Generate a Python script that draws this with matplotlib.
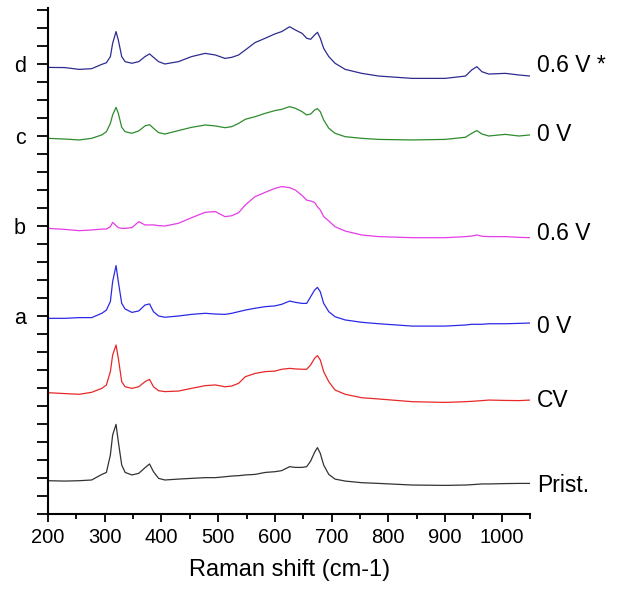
import numpy as np
import matplotlib.pyplot as plt
from matplotlib.ticker import MultipleLocator

plt.rcParams['font.family'] = ['Liberation Sans', 'DejaVu Sans']

# Raman shift (cm-1), common grid
shift = [200, 230, 255, 277, 295, 303, 310, 314, 320, 324, 330, 336, 348, 360,
         371, 379, 386, 395, 406, 430, 453, 477, 495, 512, 524, 536, 548, 565,
         583, 600, 612, 626, 636, 648, 656, 663, 670, 675, 680, 686, 695, 706,
         724, 753, 783, 842, 900, 936, 947, 956, 965, 977, 1006, 1030, 1050]

# stacked intensities (arbitrary units, offsets included)
prist = [1.85, 1.83, 1.85, 1.89, 2.20, 2.31, 3.28, 4.39, 4.98, 4.02, 2.72, 2.31,
         2.17, 2.26, 2.57, 2.78, 2.35, 1.98, 1.89, 1.94, 1.98, 2.02, 2.02, 2.07,
         2.11, 2.13, 2.17, 2.20, 2.31, 2.35, 2.41, 2.63, 2.59, 2.59, 2.63, 2.94,
         3.43, 3.69, 3.37, 2.72, 2.20, 1.94, 1.83, 1.74, 1.70, 1.61, 1.59, 1.61,
         1.63, 1.65, 1.67, 1.67, 1.69, 1.70, 1.70]
cv = [6.74, 6.69, 6.65, 6.76, 6.98, 7.17, 7.91, 8.83, 9.39, 8.65, 7.35, 7.07,
      6.98, 7.07, 7.35, 7.48, 7.07, 6.85, 6.80, 6.83, 6.98, 7.13, 7.17, 7.07,
      7.11, 7.26, 7.63, 7.81, 7.91, 7.94, 8.04, 8.09, 8.06, 8.04, 8.04, 8.28,
      8.65, 8.80, 8.56, 7.91, 7.35, 6.89, 6.65, 6.46, 6.39, 6.24, 6.20, 6.24,
      6.26, 6.28, 6.30, 6.33, 6.31, 6.30, 6.33]
a_0v = [10.87, 10.87, 10.91, 10.91, 11.15, 11.33, 11.80, 12.91, 13.80, 12.91,
        11.70, 11.39, 11.20, 11.28, 11.61, 11.67, 11.24, 11.00, 10.93, 11.00,
        11.09, 11.15, 11.11, 11.09, 11.15, 11.24, 11.33, 11.43, 11.52, 11.56,
        11.65, 11.83, 11.76, 11.70, 11.70, 12.07, 12.44, 12.59, 12.35, 11.70,
        11.24, 10.96, 10.78, 10.65, 10.57, 10.44, 10.44, 10.50, 10.54, 10.54,
        10.54, 10.57, 10.57, 10.59, 10.61]
b_06v = [15.87, 15.81, 15.74, 15.78, 15.83, 15.83, 15.96, 16.20, 16.02, 15.91,
         15.87, 15.87, 15.91, 16.24, 16.06, 16.06, 16.06, 16.02, 16.00, 16.15,
         16.46, 16.76, 16.80, 16.52, 16.57, 16.74, 17.17, 17.63, 17.87, 18.09,
         18.19, 18.13, 18.00, 17.69, 17.44, 17.39, 17.31, 17.07, 16.89, 16.52,
         16.28, 15.96, 15.72, 15.50, 15.41, 15.35, 15.35, 15.41, 15.44, 15.50,
         15.43, 15.41, 15.41, 15.37, 15.35]
c_0v = [20.87, 20.83, 20.78, 20.87, 21.06, 21.24, 21.70, 22.17, 22.59, 22.26,
        21.48, 21.24, 21.15, 21.28, 21.56, 21.63, 21.43, 21.19, 21.11, 21.30,
        21.48, 21.61, 21.56, 21.46, 21.52, 21.70, 21.93, 22.07, 22.26, 22.41,
        22.48, 22.63, 22.54, 22.35, 22.17, 22.22, 22.44, 22.52, 22.35, 21.89,
        21.43, 21.15, 20.96, 20.87, 20.81, 20.78, 20.81, 20.93, 21.15, 21.30,
        21.11, 21.00, 21.09, 21.00, 21.06]
d_06v = [24.81, 24.80, 24.70, 24.74, 24.98, 25.07, 25.41, 26.15, 26.80, 26.33,
         25.41, 25.13, 25.04, 25.13, 25.41, 25.56, 25.37, 25.13, 25.00, 25.13,
         25.41, 25.59, 25.50, 25.31, 25.37, 25.50, 25.78, 26.19, 26.43, 26.67,
         26.80, 27.07, 26.89, 26.70, 26.43, 26.37, 26.61, 26.76, 26.43, 25.87,
         25.41, 25.04, 24.70, 24.48, 24.33, 24.20, 24.20, 24.33, 24.67, 24.85,
         24.57, 24.44, 24.48, 24.39, 24.33]

series = [prist, cv, a_0v, b_06v, c_0v, d_06v]
colors = ['#333333', '#e82828', '#2a2ae6', '#e63ce6', '#2e8b2e', '#2c2c90']
right_labels = ['Prist.', 'CV', '0 V', '0.6 V', '0 V', '0.6 V *']
label_y = [1.61, 6.33, 10.39, 15.61, 21.11, 24.89]

letter_ticks = {11: 'a', 16: 'b', 21: 'c', 25: 'd'}

fig = plt.figure(figsize=(6.23, 5.93), dpi=100)
ax = fig.add_axes([0.077, 0.1332, 0.774, 0.853])

for s, c in zip(series, colors):
    ax.plot(shift, s, color=c, lw=0.9)

for t, y in zip(right_labels, label_y):
    ax.text(1062, y, t, fontsize=16.5, va='center', ha='left', clip_on=False)

ax.set_xlim(200, 1050)
ax.set_ylim(0, 28.1)
ax.xaxis.set_major_locator(MultipleLocator(100))
ax.xaxis.set_minor_locator(MultipleLocator(50))
ax.set_xticks([200, 300, 400, 500, 600, 700, 800, 900, 1000])
ax.set_yticks(range(0, 29))
ax.set_yticklabels([letter_ticks.get(i, '') for i in range(0, 29)])
ax.tick_params(axis='x', which='major', length=6, width=1.3, labelsize=14.5, pad=4)
ax.tick_params(axis='x', which='minor', length=3.5, width=1.3)
ax.tick_params(axis='y', length=8, width=1.3, labelsize=15.5, pad=8)
ax.set_xlabel('Raman shift (cm-1)', fontsize=17, labelpad=9)

for side in ['top', 'right']:
    ax.spines[side].set_visible(False)
for side in ['left', 'bottom']:
    ax.spines[side].set_linewidth(1.5)

fig.savefig('out.png', dpi=100)
